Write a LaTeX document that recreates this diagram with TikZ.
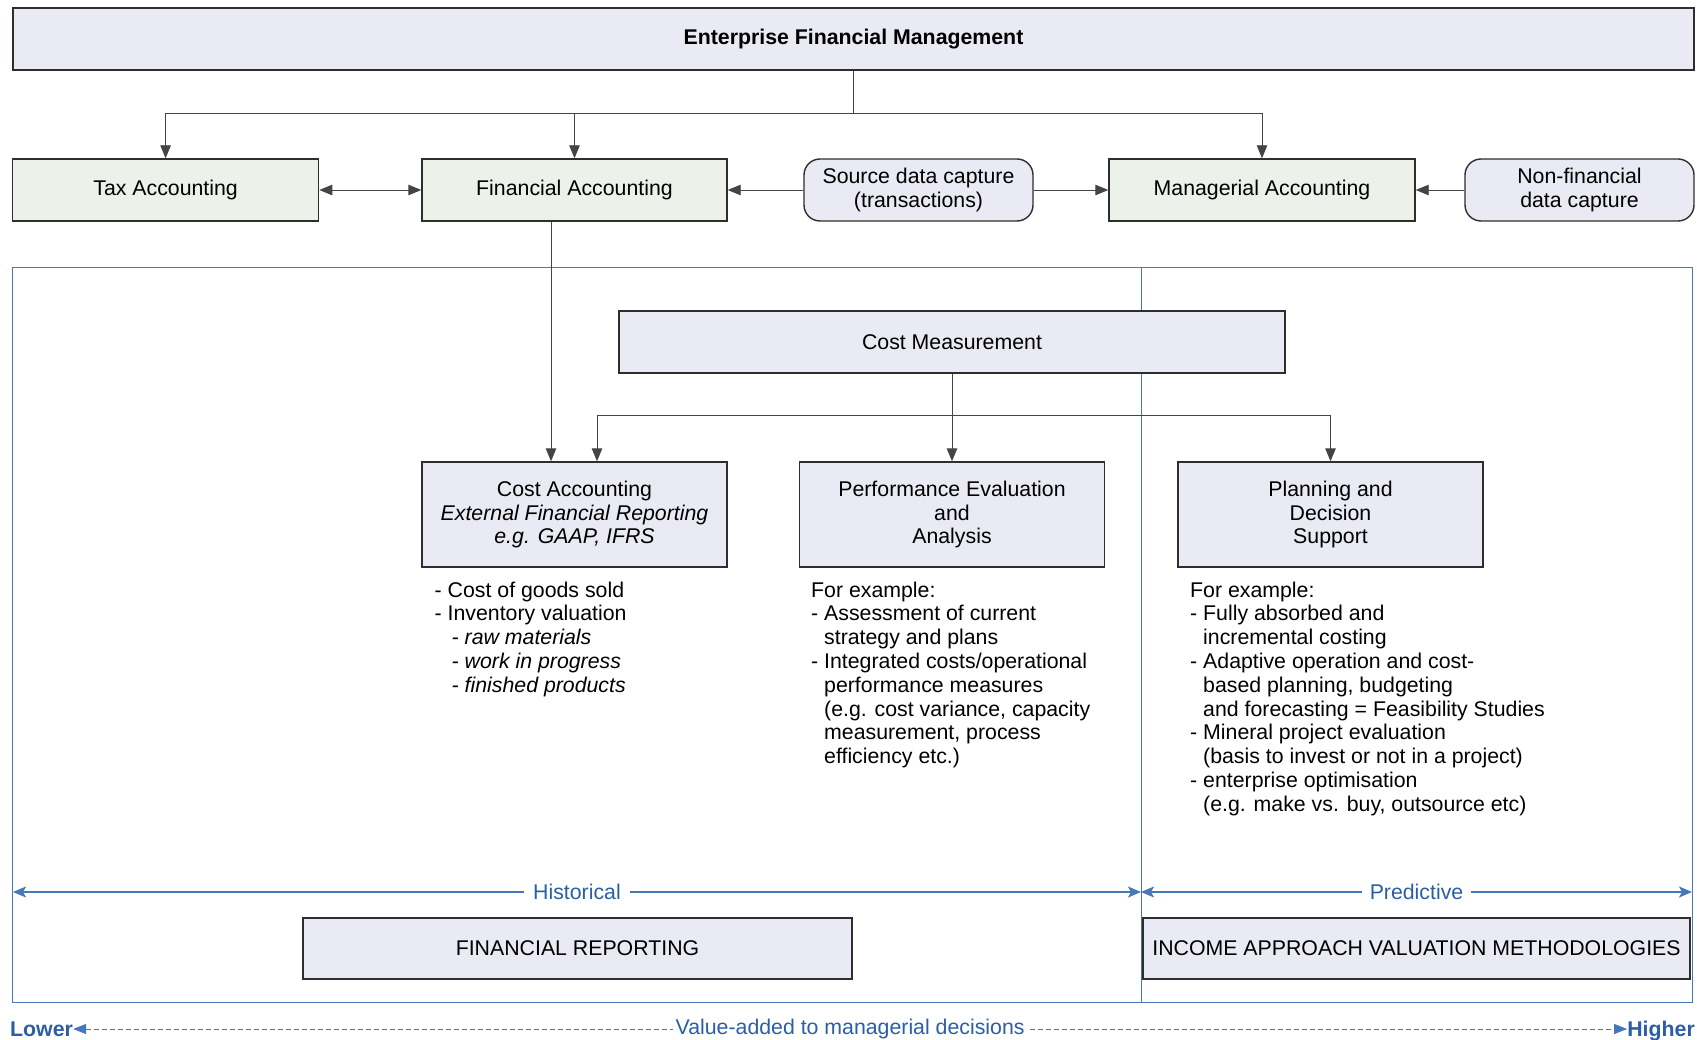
\documentclass[tikz,border=0pt]{standalone}
\usepackage{fontspec}
\setmainfont{Liberation Sans}
\usetikzlibrary{arrows.meta}
\definecolor{lav}{HTML}{EAEAF4}
\definecolor{grn}{HTML}{ECF1EA}
\definecolor{bl}{HTML}{4677B8}
\definecolor{bltxt}{HTML}{2B5EA6}
\definecolor{edgec}{HTML}{2E2E2E}
\definecolor{connc}{HTML}{444444}
\begin{document}
\begin{tikzpicture}[x=1pt,y=-1pt,
  every node/.style={font=\fontsize{21.3}{23.8}\selectfont, inner sep=0pt},
  box/.style={draw=edgec, line width=1.4pt, fill=lav, minimum height=62pt, align=center},
  gbox/.style={box, fill=grn},
  rbox/.style={box, rounded corners=16pt},
  tallbox/.style={box, minimum height=105pt, minimum width=305pt},
  conn/.style={draw=connc, line width=0.9pt},
  arr/.style={conn, -{Triangle[length=13pt,width=10.5pt]}},
  darr/.style={conn, {Triangle[length=13pt,width=10.5pt]}-{Triangle[length=13pt,width=10.5pt]}},
  barr/.style={draw=bl, line width=1.6pt, {Stealth[length=13pt,width=11pt,inset=3pt]}-{Stealth[length=13pt,width=11pt,inset=3pt]}},
  dbarr/.style={draw=bl, line width=0.9pt, dash pattern=on 5pt off 3pt, {Triangle[length=13pt,width=10pt]}-{Triangle[length=13pt,width=10pt]}},
  blab/.style={fill=white, text=bltxt, inner xsep=9pt, inner ysep=2pt},
  listtext/.style={anchor=base west}
]
\useasboundingbox (0,0) rectangle (1697,1040);

% blue frame
\coordinate (fTL) at (12.6,268);
\coordinate (fBR) at (1692,1002);
\coordinate (divT) at (1141,268);
\coordinate (divB) at (1141,1002);
\draw[bl, line width=1pt] (fTL) rectangle (fBR);
\draw[bl, line width=1pt] (divT) -- (divB);

% top row
\node[box, minimum width=1681pt, font=\fontsize{21.3}{23.8}\selectfont\bfseries] (efm) at (853.5,39) {Enterprise Financial Management};

\node[gbox, minimum width=306pt] (tax) at (165.6,190) {Tax Accounting};
\node[gbox, minimum width=305pt] (fin) at (574.5,190) {Financial Accounting};
\node[rbox, minimum width=229pt] (src) at (918.5,190) {Source data capture\\(transactions)};
\node[gbox, minimum width=306pt] (mgr) at (1262,190) {Managerial Accounting};
\node[rbox, minimum width=229pt] (nonfin) at (1579.5,190) {Non-financial\\data capture};

\coordinate (j1) at (853.5,113);
\draw[conn] (efm.south) -- (j1);
\draw[arr] (j1) -| (tax.north);
\draw[arr] (j1) -| (fin.north);
\draw[arr] (j1) -| (mgr.north);
\draw[darr] (tax) -- (fin);
\draw[arr] (src) -- (fin);
\draw[arr] (src) -- (mgr);
\draw[arr] (nonfin) -- (mgr);

% cost measurement
\node[box, minimum width=666pt] (cm) at (952,342) {Cost Measurement};

\node[tallbox] (ca) at (574.5,514.5) {Cost Accounting\\\textit{External Financial Reporting}\\\textit{e.g. GAAP, IFRS}};
\node[tallbox] (pe) at (952,514.5) {Performance Evaluation\\and\\Analysis};
\node[tallbox] (pd) at (1330.5,514.5) {Planning and\\Decision\\Support};

\draw[arr] ([xshift=-23.5pt]fin.south) -- ([xshift=-23.5pt]ca.north);
\coordinate (j2) at (952,415);
\draw[arr] (cm.south) -- (pe.north);
\draw[arr] (j2) -| ([xshift=22.5pt]ca.north);
\draw[arr] (j2) -| (pd.north);

% lists
\node[listtext] (l1) at (434.5,597) {\parbox[t]{300pt}{\raggedright
- Cost of goods sold\\
- Inventory valuation\\
\hspace*{17pt}\textit{- raw materials}\\
\hspace*{17pt}\textit{- work in progress}\\
\hspace*{17pt}\textit{- finished products}}};

\node[listtext] (l2) at (811,597) {\parbox[t]{320pt}{\raggedright
For example:\\
- Assessment of current\\
\hspace*{13pt}strategy and plans\\
- Integrated costs/operational\\
\hspace*{13pt}performance measures\\
\hspace*{13pt}(e.g. cost variance, capacity\\
\hspace*{13pt}measurement, process\\
\hspace*{13pt}efficiency etc.)}};

\node[listtext] (l3) at (1190,597) {\parbox[t]{420pt}{\raggedright
For example:\\
- Fully absorbed and\\
\hspace*{13pt}incremental costing\\
- Adaptive operation and cost-\\
\hspace*{13pt}based planning, budgeting\\
\hspace*{13pt}and forecasting = Feasibility Studies\\
- Mineral project evaluation\\
\hspace*{13pt}(basis to invest or not in a project)\\
- enterprise optimisation\\
\hspace*{13pt}(e.g. make vs. buy, outsource etc)}};

% historical / predictive
\coordinate (hL) at (13,892);
\coordinate (hM) at (1141,892);
\coordinate (hR) at (1692,892);
\draw[barr] (hL) -- node[blab] (hist) {Historical} (hM);
\draw[barr] (hM) -- node[blab, inner xsep=8pt] (pred) {Predictive} (hR);

\node[box, minimum width=549pt, minimum height=61pt] (fr) at (577.5,948.5) {FINANCIAL REPORTING};
\node[box, minimum width=547pt, minimum height=61pt] (ia) at (1416.5,948.5) {INCOME APPROACH VALUATION METHODOLOGIES};

% bottom value line
\node[anchor=west, text=bltxt, font=\fontsize{21.3}{23.8}\selectfont\bfseries, text height=15.2pt, text depth=0pt] (lower) at (10,1029) {Lower};
\node[anchor=east, text=bltxt, font=\fontsize{21.3}{23.8}\selectfont\bfseries, text height=15.2pt, text depth=0pt] (higher) at (1695,1029) {Higher};
\draw[dbarr] (lower.east) -- node[fill=white, text=bltxt, inner xsep=3pt, inner ysep=2pt] (va) {Value-added to managerial decisions} (higher.west);
\end{tikzpicture}
\end{document}
